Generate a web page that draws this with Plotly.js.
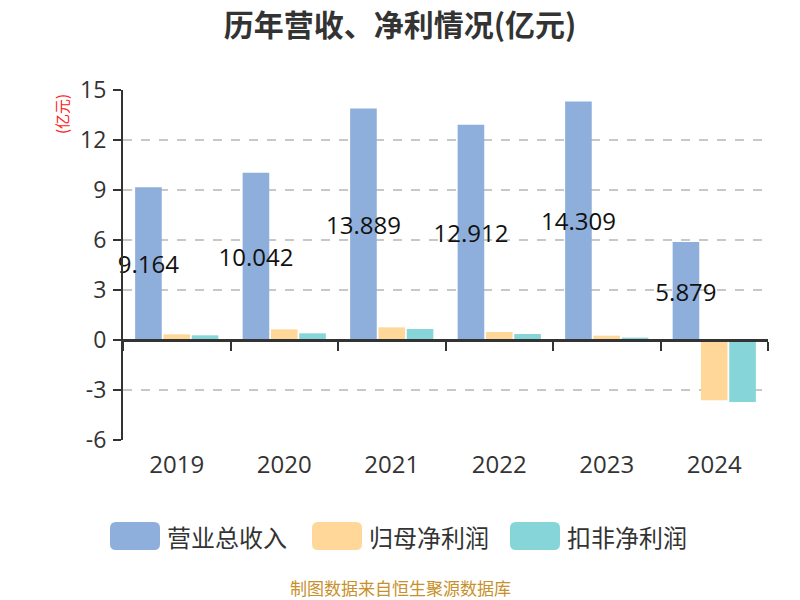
<!DOCTYPE html>
<html>
<head>
<meta charset="utf-8">
<script src="https://cdn.plot.ly/plotly-3.0.1.min.js"></script>
<style>body{margin:0;background:#fff}#chart{width:800px;height:600px}</style>
</head>
<body>
<div id="chart"></div>
<script>
const years = ['2019','2020','2021','2022','2023','2024'];
const revenue = [9.164, 10.042, 13.889, 12.912, 14.309, 5.879];
const netProfit = [0.34, 0.64, 0.76, 0.48, 0.26, -3.62];
const deductedProfit = [0.28, 0.40, 0.66, 0.36, 0.14, -3.72];
const seriesNames = ['营业总收入', '归母净利润', '扣非净利润'];
const colors = ['#8eaedb', '#ffd899', '#86d5d8'];
const yTicks = [-6, -3, 0, 3, 6, 9, 12, 15];

const font = 'Open Sans, Noto Sans CJK SC, sans-serif';
const cjk = 'Noto Sans CJK SC, sans-serif';

// plot-area geometry (pixels) used to place legend items in paper coordinates
const W = 800, H = 600, L = 123, R = 32, T = 90, B = 160;
const pw = W - L - R, ph = H - T - B;
const px = v => (v - L) / pw;
const py = v => (H - B - v) / ph;
function roundRect(x0, y0, x1, y1, r) {
  const rx = r / pw, ry = r / ph;
  const a = px(x0), b = px(x1), c = py(y1), d = py(y0);
  return `M${a+rx},${c} L${b-rx},${c} Q${b},${c} ${b},${c+ry} L${b},${d-ry} Q${b},${d} ${b-rx},${d} ` +
         `L${a+rx},${d} Q${a},${d} ${a},${d-ry} L${a},${c+ry} Q${a},${c} ${a+rx},${c} Z`;
}

const traces = [
  {type:'bar', name:seriesNames[0], x:years, y:revenue, marker:{color:colors[0]},
   text:revenue.map(v=>v.toFixed(3)), textposition:'inside', insidetextanchor:'middle',
   textangle:0, constraintext:'none', insidetextfont:{color:'#111', size:24, family:font},
   cliponaxis:false, showlegend:false},
  {type:'bar', name:seriesNames[1], x:years, y:netProfit, marker:{color:colors[1]}, textposition:'none', showlegend:false},
  {type:'bar', name:seriesNames[2], x:years, y:deductedProfit, marker:{color:colors[2]}, textposition:'none', showlegend:false},
  {type:'scatter', mode:'markers', x:years, y:years.map(()=>null), xaxis:'x2', yaxis:'y',
   showlegend:false, hoverinfo:'skip', marker:{opacity:0}}
];

const legendBoxes = [[110,160], [312,362], [510,560]];
const shapes = legendBoxes.map((bx,i)=>({
  type:'path', xref:'paper', yref:'paper', path:roundRect(bx[0], 522, bx[1], 550, 6),
  fillcolor:colors[i], line:{width:0}
}));
const legendTexts = seriesNames.map((n,i)=>({
  text:n, xref:'paper', yref:'paper', x:px(legendBoxes[i][1]+5), y:py(536),
  xanchor:'left', yanchor:'middle', showarrow:false, font:{size:24, color:'#333', family:cjk}
}));

const layout = {
  width:W, height:H,
  paper_bgcolor:'#fff', plot_bgcolor:'#fff',
  margin:{l:L, r:R, t:T, b:B},
  font:{family:font, color:'#333'},
  title:{text:'<b>历年营收、净利情况(亿元)</b>', x:0.5, xanchor:'center', y:0.958, yanchor:'middle',
         font:{size:30, color:'#333', family:cjk}},
  barmode:'group', bargap:0.21, bargroupgap:0.06,
  xaxis:{type:'category', showline:false, ticks:'', zeroline:false, showgrid:false,
         tickfont:{size:24, color:'#333'}, ticklabelstandoff:8},
  xaxis2:{type:'category', overlaying:'x', matches:'x', anchor:'free', position:6/21,
          showticklabels:false, ticks:'outside', tickson:'boundaries', ticklen:9, tickwidth:2,
          tickcolor:'#333', showline:true, linecolor:'#333', linewidth:2.5, showgrid:false},
  yaxis:{range:[-6,15], tickvals:yTicks, ticktext:yTicks.map(String), showline:true, linecolor:'#333', linewidth:2,
         ticks:'outside', ticklen:8, tickwidth:2, tickcolor:'#333',
         showgrid:true, gridcolor:'#c8c8c8', griddash:'dash', gridwidth:1.5,
         zeroline:false, tickfont:{size:23, color:'#333'}, ticklabelstandoff:2},
  shapes:shapes,
  annotations:[
    {text:'(亿元)', xref:'paper', yref:'paper', x:px(62), y:py(92), xanchor:'center', yanchor:'top',
     textangle:-90, showarrow:false, font:{size:15, color:'#ff2020', family:cjk}},
    {text:'制图数据来自恒生聚源数据库', xref:'paper', yref:'paper', x:px(400), y:py(587),
     xanchor:'center', yanchor:'middle', showarrow:false, font:{size:17, color:'#c8902a', family:cjk}}
  ].concat(legendTexts),
  showlegend:false
};

Plotly.newPlot('chart', traces, layout, {displayModeBar:false, staticPlot:true});
</script>
</body>
</html>
